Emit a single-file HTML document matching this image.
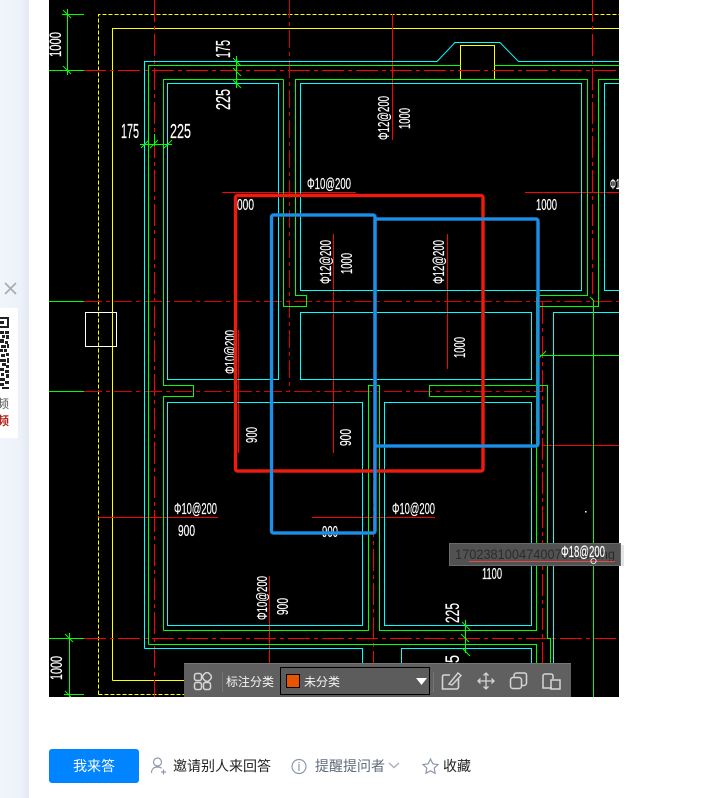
<!DOCTYPE html>
<html lang="zh"><head><meta charset="utf-8"><style>
html,body{margin:0;padding:0;background:#fff}
body{width:727px;height:798px;position:relative;overflow:hidden;font-family:"Liberation Sans","Noto Sans CJK SC",sans-serif}
svg{position:absolute;left:0;top:0}
</style></head><body>
<svg width="727" height="798" viewBox="0 0 727 798" shape-rendering="crispEdges" font-family="Liberation Sans, Noto Sans CJK SC, sans-serif">
<defs>
<linearGradient id="sb" x1="0" x2="1"><stop offset="0" stop-color="#f0f5fc"/><stop offset=".7" stop-color="#edf2fa"/><stop offset="1" stop-color="#e4e9f1"/></linearGradient>
</defs>
<rect width="727" height="798" fill="#fff"/>
<rect width="29" height="798" fill="url(#sb)"/>
<path d="M5 283L16 294M16 283L5 294" stroke="#aaa" stroke-width="1.6" shape-rendering="auto"/>
<rect x="0" y="308" width="18" height="130" fill="#fff"/>
<g fill="#222">
<path d="M0 317h9v11h-9v-2h7v-7h-7zM0 321h4v3h-4z"/>
<path d="M0 331h4v3h-4zM5 331h4v3h-4zM2 335h3v3h-3zM6 335h3v4h-3zM0 339h4v4h-4zM5 341h3v3h-3zM7 344h2v4h-2zM1 345h5v3h-5zM0 349h3v3h-3zM4 349h3v3h-3zM6 353h3v3h-3zM1 354h4v3h-4zM0 359h6v3h-6zM7 358h2v5h-2zM2 363h4v3h-4zM6 365h3v3h-3zM0 368h4v3h-4zM5 370h4v3h-4zM1 373h3v3h-3zM6 374h3v4h-3zM0 378h5v3h-5zM5 381h4v3h-4zM0 383h4v3h-4zM2 387h7v2h-7z"/>
</g>
<text x="-15" y="408" font-size="12" fill="#555" shape-rendering="auto">视频</text>
<text x="-15" y="425" font-size="12" font-weight="700" fill="#b3261e" shape-rendering="auto">视频</text>

<rect x="49" y="0" width="570" height="697" fill="#000"/>
<g fill="none" stroke-width="1">
<!-- yellow -->
<path d="M98.500 694.500V14.500H619M98.500 694.500H184" stroke="#ff0" stroke-dasharray="4 2"/>
<path d="M112.500 680.500V28.500H619M112.500 680.500H184" stroke="#ff0"/>
<path d="M460.500 79V45.500H494.500V79" stroke="#ff0"/>
<!-- red dash-dot -->
<g stroke="#f00" stroke-dasharray="22 4 4 4">
<path d="M84 70.500H619M84 638.500H619"/>
<path d="M154.500 0V697M592.500 0V300M542.500 302V697M373.500 447V664"/>
</g>
<g stroke="#d00" stroke-dasharray="18 4 4 4">
<path d="M84 301.500H619M84 391.500H542M289.500 0V391"/>
</g>
<!-- thin red solid -->
<g stroke="#f00">
<path d="M392.500 14V140M222 192.500H356M525 192.500H619M333.500 234V453M447.500 234V369M238.500 330V453M98.500 517.500H218M312 517.500H435M542 445.500H619M269.500 576V664"/>
</g>
<!-- cyan -->
<g stroke="#0ff">
<path d="M144.500 648.500V61.500H437L455 42.500H500L518.500 61.500H619" shape-rendering="auto"/>
<path d="M144.500 648.500H362.500V663"/>
<path d="M401.500 663V648.500H531.500V697"/>
<rect x="167.500" y="83.500" width="111" height="296"/>
<rect x="300.500" y="83.500" width="281" height="207"/>
<path d="M619 83.500H604.500V290.500H619"/>
<rect x="300.500" y="312.500" width="231" height="67"/>
<rect x="167.500" y="402.500" width="195" height="223"/>
<rect x="384.500" y="402.500" width="147" height="223"/>
<path d="M619 312.500H553.500V697"/>
</g>
<!-- green -->
<g stroke="#0f0">
<path d="M148.500 644.500V65.500H460.500M494.500 65.500H619"/>
<path d="M283.500 79.500V306.500H306.500V295.500H295.500V79.500H587.500V295.500H537"/>
<path d="M163.500 630.500V396.500H193.500V385.500H163.500V79.500H283.500"/>
<path d="M163.500 630.500H368.500V385.500H379.500V630.500H536.500V297"/>
<path d="M619 79.500H598.500V306.500H537"/>
<path d="M429.500 396.500V385.500H547.500V638.500H550.500V697M429.500 396.500H536.500"/>
<path d="M148.500 644.500H536.500V697"/>
<path d="M593.500 300V697M540 355.500H619"/>
<path d="M49 70.500H84M62 14.500H84M67.500 9V75M49 301.500H84M49 391.500H84M49 638.500H84M64 694.500H84M69.500 633V697"/>
<path d="M140 144.500H172M154.500 134V146M236.500 56V88"/>
<path d="M465.500 620V653"/>
<path d="M63 10l8 8M63 66l8 8M65 634l8 8M65 691l6 6M141 148l8-8M150 148l8-8M164 148l8-8M233 58l8 8M233 68l8 8M233 80l8 8M462 622l8 8M461 634l8 8M462 648l8 8M538 359l8-8M590 297l4 4" shape-rendering="auto"/>
</g>
<rect x="85.500" y="312.500" width="31" height="34" stroke="#fff"/>
</g>

<!-- CAD text -->
<g fill="#fff" font-family="Liberation Sans, sans-serif" stroke="#fff" stroke-width=".2" shape-rendering="auto">
<text transform="translate(61,57) rotate(-90)" font-size="17" textLength="25" lengthAdjust="spacingAndGlyphs">1000</text>
<text transform="translate(230,58) rotate(-90)" font-size="20" textLength="18" lengthAdjust="spacingAndGlyphs">175</text>
<text transform="translate(230,110) rotate(-90)" font-size="20" textLength="21" lengthAdjust="spacingAndGlyphs">225</text>
<text x="121" y="138" font-size="20" textLength="18" lengthAdjust="spacingAndGlyphs">175</text>
<text x="170" y="138" font-size="20" textLength="21" lengthAdjust="spacingAndGlyphs">225</text>
<text x="237" y="210" font-size="16" textLength="17" lengthAdjust="spacingAndGlyphs">000</text>
<text transform="translate(389,140) rotate(-90)" font-size="16" textLength="44" lengthAdjust="spacingAndGlyphs">Φ12@200</text>
<text transform="translate(410,129) rotate(-90)" font-size="16" textLength="21" lengthAdjust="spacingAndGlyphs">1000</text>
<text x="307" y="189" font-size="16" textLength="44" lengthAdjust="spacingAndGlyphs">Φ10@200</text>
<text x="536" y="210" font-size="16" textLength="21" lengthAdjust="spacingAndGlyphs">1000</text>
<text x="610" y="189" font-size="15" textLength="10" lengthAdjust="spacingAndGlyphs">Φ1</text>
<text transform="translate(331,284) rotate(-90)" font-size="16" textLength="44" lengthAdjust="spacingAndGlyphs">Φ12@200</text>
<text transform="translate(352,274) rotate(-90)" font-size="16" textLength="21" lengthAdjust="spacingAndGlyphs">1000</text>
<text transform="translate(444,284) rotate(-90)" font-size="16" textLength="44" lengthAdjust="spacingAndGlyphs">Φ12@200</text>
<text transform="translate(465,358) rotate(-90)" font-size="16" textLength="21" lengthAdjust="spacingAndGlyphs">1000</text>
<text transform="translate(235,374) rotate(-90)" font-size="15" textLength="44" lengthAdjust="spacingAndGlyphs">Φ10@200</text>
<text transform="translate(257,443) rotate(-90)" font-size="16" textLength="16" lengthAdjust="spacingAndGlyphs">900</text>
<text transform="translate(351,446) rotate(-90)" font-size="16" textLength="17" lengthAdjust="spacingAndGlyphs">900</text>
<text x="174" y="514" font-size="16" textLength="43" lengthAdjust="spacingAndGlyphs">Φ10@200</text>
<text x="178" y="536" font-size="16" textLength="17" lengthAdjust="spacingAndGlyphs">900</text>
<text x="392" y="514" font-size="16" textLength="43" lengthAdjust="spacingAndGlyphs">Φ10@200</text>
<text x="322" y="537" font-size="16" textLength="16" lengthAdjust="spacingAndGlyphs">900</text>
<text transform="translate(267,620) rotate(-90)" font-size="15" textLength="44" lengthAdjust="spacingAndGlyphs">Φ10@200</text>
<text transform="translate(288,615) rotate(-90)" font-size="16" textLength="17" lengthAdjust="spacingAndGlyphs">900</text>
<text transform="translate(62,680) rotate(-90)" font-size="17" textLength="24" lengthAdjust="spacingAndGlyphs">1000</text>
<text transform="translate(459,623) rotate(-90)" font-size="19" textLength="20" lengthAdjust="spacingAndGlyphs">225</text>
<text transform="translate(459,663) rotate(-90)" font-size="19" textLength="8" lengthAdjust="spacingAndGlyphs">5</text>
<text x="482" y="579" font-size="16" textLength="20" lengthAdjust="spacingAndGlyphs">1100</text>
</g>
<rect x="585" y="511" width="1.500" height="1.500" fill="#fff"/>

<!-- tooltip -->
<rect x="449.500" y="543.500" width="171" height="22" fill="#525252" stroke="#6a6a6a"/>
<rect x="621" y="545" width="3" height="21" fill="#ccc" opacity=".5"/>
<text x="455" y="559" font-size="14" fill="#2b2b2b" textLength="160" lengthAdjust="spacingAndGlyphs" shape-rendering="auto">1702381004740070888.png</text>
<path d="M469 561.500H615" stroke="#e24a4a"/>
<text x="561" y="557" font-size="16" fill="#fff" stroke="#fff" stroke-width=".2" textLength="44" lengthAdjust="spacingAndGlyphs" shape-rendering="auto">Φ18@200</text>
<circle cx="593.500" cy="561" r="2.600" fill="none" stroke="#fff" stroke-width=".8" shape-rendering="auto"/>

<!-- red/blue annotation rects -->
<g fill="none" shape-rendering="auto">
<rect x="235.500" y="195.500" width="247.500" height="275.500" rx="2" stroke="#a01a10" stroke-width="4" opacity=".55"/>
<rect x="235.500" y="195.500" width="247.500" height="275.500" rx="2" stroke="#f21a0c" stroke-width="3"/>
<rect x="271.500" y="215" width="103.500" height="318" rx="2" stroke="#17609c" stroke-width="4" opacity=".55"/>
<rect x="375" y="219" width="163" height="227" rx="2" stroke="#17609c" stroke-width="4" opacity=".55"/>
<rect x="271.500" y="215" width="103.500" height="318" rx="2" stroke="#1c8fe8" stroke-width="3"/>
<rect x="375" y="219" width="163" height="227" rx="2" stroke="#1c8fe8" stroke-width="3"/>
</g>

<!-- toolbar -->
<rect x="184" y="663" width="387" height="34" fill="#606060"/>
<rect x="184" y="663" width="387" height="1" fill="#777"/>
<g fill="none" stroke="#d5d5d5" stroke-width="1.500" shape-rendering="auto">
<rect x="194.500" y="673.500" width="7" height="7" rx="2"/>
<rect x="203" y="673" width="8" height="8" rx="3" transform="rotate(45 207 677)"/>
<rect x="194.500" y="682.500" width="7" height="7" rx="2"/>
<rect x="203.500" y="682.500" width="7" height="7" rx="2"/>
<path d="M450 675h-6a1.500 1.500 0 0 0-1.500 1.500V689h14a2 2 0 0 0 2-2v-8" stroke-width="1.600"/>
<path d="M449 684L458 673l3 2.500L452 685z" stroke-width="1.400"/>
<path d="M486 673v16M478 681h16M483.500 675.500l2.500-2.500 2.500 2.500M483.500 686.500l2.500 2.500 2.500-2.500M480.500 678.500L478 681l2.500 2.500M491.500 678.500L494 681l-2.500 2.500" stroke-width="1.300"/>
<rect x="510.500" y="677.500" width="11" height="11" rx="2.500"/>
<path d="M514 677v-1.500a2.500 2.500 0 0 1 2.500-2.500h8a2 2 0 0 1 2 2v8a2.500 2.500 0 0 1-2.500 2.500h-3"/>
<path d="M552 688h-9v-12a2 2 0 0 1 2-2h6a2 2 0 0 1 2 2v3"/>
<rect x="551" y="680" width="9" height="9"/>
</g>
<rect x="222" y="672" width="1" height="20" fill="#777"/>
<rect x="433" y="672" width="1" height="20" fill="#777"/>
<text x="226" y="686" font-size="12" fill="#f4f4f4" shape-rendering="auto">标注分类</text>
<rect x="280.500" y="667.500" width="149" height="27" fill="#5c5c5c" stroke="#000"/>
<rect x="286.500" y="674.500" width="13" height="13" fill="#e85400" stroke="#000"/>
<text x="304" y="686" font-size="12" fill="#f4f4f4" shape-rendering="auto">未分类</text>
<path d="M416 678h11l-5.500 7z" fill="#fff" shape-rendering="auto"/>

<!-- bottom bar -->
<rect x="49" y="749" width="90" height="34" rx="3" fill="#0084ff" shape-rendering="auto"/>
<text x="94" y="771" font-size="14" fill="#fff" text-anchor="middle" shape-rendering="auto">我来答</text>
<g fill="none" stroke="#8d98ac" stroke-width="1.200" shape-rendering="auto">
<circle cx="157.500" cy="762" r="4"/>
<path d="M151.500 773c0-4 2.500-6 6-6 1.500 0 3 .3 4 1.300M161 772h5M163.500 769.500v5"/>
<circle cx="299" cy="766.500" r="7"/>
<path d="M299 764v7M299 762v1.300"/>
<path d="M389 763l5 4.500L399 763" stroke="#a9b1be" stroke-width="1.500"/>
<path d="M430.500 759l2.300 4.800 5.200.7-3.800 3.600.9 5.200-4.600-2.500-4.600 2.500.9-5.200-3.800-3.600 5.200-.7z"/>
</g>
<text x="173" y="771" font-size="14" fill="#222" shape-rendering="auto">邀请别人来回答</text>
<text x="315" y="771" font-size="14" fill="#5f6b7c" shape-rendering="auto">提醒提问者</text>
<text x="443" y="771" font-size="14" fill="#222" shape-rendering="auto">收藏</text>
</svg>
</body></html>
